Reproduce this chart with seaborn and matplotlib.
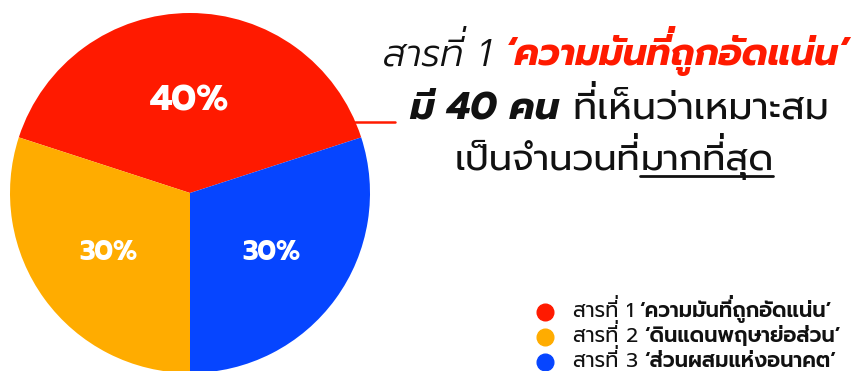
import matplotlib
matplotlib.use("Agg")
import matplotlib.pyplot as plt
from matplotlib.font_manager import FontProperties, findfont, get_font
from matplotlib.lines import Line2D
import seaborn as sns

# ---- data ----
substances = ["สารที่ 1", "สารที่ 2", "สารที่ 3"]
names = ["‘ความมันที่ถูกอัดแน่น’", "‘ดินแดนพฤษาย่อส่วน’", "‘ส่วนผสมแห่งอนาคต’"]
shares = [40, 30, 30]
colors = ["#FF1A00", "#FFAC00", "#0645FF"]

title_l1 = [("สารที่ 1 ", "light_it", "#111111"), ("‘ความมันที่ถูกอัดแน่น’", "bold_it", "#FF1A00")]
title_l2 = [("มี 40 คน", "bold_it", "#111111"), (" ที่เห็นว่าเหมาะสม", "reg", "#111111")]
title_l3 = [("เป็นจำนวนที่", "reg", "#111111"), ("มากที่สุด", "reg_ul", "#111111")]

sns.set_theme(style="white")
W, H = 851, 371
fig = plt.figure(figsize=(W / 100, H / 100), dpi=100)
fig.patch.set_facecolor("white")

FAM = "Prompt"
fonts = {
    "light_it": dict(weight=300, style="italic"),
    "bold_it": dict(weight=700, style="italic"),
    "reg": dict(weight=400, style="normal"),
    "reg_ul": dict(weight=400, style="normal"),
    "semi": dict(weight=600, style="normal"),
}

UPPER = set("\u0E34\u0E35\u0E36\u0E37\u0E31\u0E47")
TONES = set("\u0E48\u0E49\u0E4A\u0E4B\u0E4C")

fig.canvas.draw()
renderer = fig.canvas.get_renderer()


def thai_text(x_px, base_px, s, size, weight, style, color):
    """Draw Thai text; lift tone marks that sit on an upper vowel (no shaping in mpl)."""
    fp = FontProperties(family=FAM, weight=weight, style=style, size=size)
    font = get_font(findfont(fp))
    font.set_size(size, 100)
    xys = font.set_text(s, 0.0)
    lifted = [j for j, c in enumerate(s) if c in TONES and j > 0 and s[j - 1] in UPPER]
    main = "".join(c for j, c in enumerate(s) if j not in lifted)
    t = fig.text(x_px / W, 1 - base_px / H, main, fontproperties=fp, color=color,
                 ha="left", va="baseline")
    dy = 0.24 * size * 100 / 72
    dx = dy * (0.18 if style == "italic" else 0.0)
    for j in lifted:
        px = xys[j][0] / 64.0
        fig.text((x_px + px + dx) / W, 1 - (base_px - dy) / H, s[j], fontproperties=fp,
                 color=color, ha="left", va="baseline")
    return t.get_window_extent(renderer).width


def measure(s, size, weight, style):
    fp = FontProperties(family=FAM, weight=weight, style=style, size=size)
    t = fig.text(0, 0, s, fontproperties=fp)
    w = t.get_window_extent(renderer).width
    t.remove()
    return w


# ---- pie ----
ax = fig.add_axes([10 / W, (H - 193 - 180) / H, 360 / W, 360 / H])
wedges, _, autotexts = ax.pie(
    shares, colors=colors, startangle=18, counterclock=True,
    autopct=lambda p: f"{p:.0f}%", pctdistance=0.56,
    textprops=dict(color="white", fontsize=19.5, family=FAM, weight=700),
    wedgeprops=dict(linewidth=0),
)
# the largest share gets a larger label, a bit closer to the centre
big = shares.index(max(shares))
bx, by = autotexts[big].get_position()
autotexts[big].set_position((bx * 0.51 / 0.56, by * 0.51 / 0.56))
autotexts[big].set_fontsize(26)
ax.set_xlim(-1, 1)
ax.set_ylim(-1, 1)
ax.set_aspect("equal")
ax.axis("off")

# connector line
fig.add_artist(Line2D([355 / W, 395 / W], [1 - 122 / H, 1 - 122 / H], color="#FF1A00", lw=1.8))


def draw_line(segments, xc, y_base, size):
    widths = [measure(s, size, fonts[k]["weight"], fonts[k]["style"]) for s, k, _ in segments]
    x = xc - sum(widths) / 2
    for (s, key, col), w in zip(segments, widths):
        f = fonts[key]
        thai_text(x, y_base, s, size, f["weight"], f["style"], col)
        if key == "reg_ul":
            fig.add_artist(Line2D([x / W, (x + w) / W], [1 - (y_base + 6) / H] * 2,
                                  color="#111111", lw=2.0))
        x += w


draw_line(title_l1, 616, 65, 26.8)
draw_line(title_l2, 619, 119, 27.5)
draw_line(title_l3, 614, 170, 26.6)

# ---- legend ----
rows_y = [312, 337, 362]
for sub, nm, c, y in zip(substances, names, colors, rows_y):
    fig.add_artist(Line2D([545 / W], [1 - y / H], marker="o", markersize=12,
                          color=c, linestyle="none"))
    w1 = thai_text(573, y + 5, sub, 15, 400, "normal", "#111111")
    thai_text(573 + w1 + 6, y + 5, nm, 15, 600, "normal", "#111111")

fig.savefig("out.png", dpi=100)
